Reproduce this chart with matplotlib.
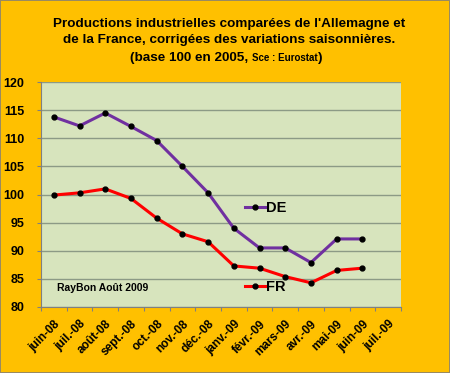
import matplotlib
matplotlib.use("Agg")
import matplotlib.pyplot as plt
from matplotlib.lines import Line2D

plt.rcParams['font.family'] = ['Liberation Sans', 'DejaVu Sans']
plt.rcParams['font.weight'] = 'bold'

months = ['juin-08', 'juil.-08', 'août-08', 'sept.-08', 'oct.-08', 'nov.-08', 'déc.-08',
          'janv.-09', 'févr.-09', 'mars-09', 'avr.-09', 'mai-09', 'juin-09', 'juil.-09']
de = [113.8, 112.2, 114.5, 112.1, 109.6, 105.0, 100.3, 94.0, 90.5, 90.5, 87.9, 92.1, 92.1]
fr = [99.9, 100.3, 101.0, 99.3, 95.8, 93.0, 91.6, 87.3, 86.9, 85.4, 84.3, 86.5, 86.9]

gold = '#FFC000'
fig = plt.figure(figsize=(4.5, 3.73), dpi=100)
fig.patch.set_facecolor(gold)
fig.patch.set_edgecolor('#9A8A60')
fig.patch.set_linewidth(1.2)

ax = fig.add_axes([0.091, 0.177, 0.800, 0.603])
ax.set_facecolor('#D7E4BD')

ax.plot(range(len(de)), de, color='#7030A0', lw=2.2, marker='o', ms=3.5, mfc='black', mec='black',
        solid_joinstyle='round', zorder=3)
ax.plot(range(len(fr)), fr, color='#FF0000', lw=2.2, marker='o', ms=3.5, mfc='black', mec='black',
        solid_joinstyle='round', zorder=3)

ax.set_xlim(-0.5, len(months) - 0.5)
ax.set_ylim(80, 120)
ax.set_yticks(range(80, 121, 5))
ax.set_xticks([i - 0.5 for i in range(len(months) + 1)])
ax.set_xticklabels([])
ax.set_xticks(range(len(months)), minor=True)
ax.set_xticklabels(months, minor=True, rotation=45, ha='right', va='top',
                   rotation_mode='anchor', fontsize=8.5, fontweight='bold')
ax.tick_params(axis='x', which='minor', length=0, pad=8)
ax.tick_params(axis='x', which='major', length=3, color='#808080', direction='out')
ax.tick_params(axis='y', labelsize=9, length=3, color='#808080', pad=9)
for lab in ax.get_yticklabels():
    lab.set_fontweight('bold')

ax.grid(axis='y', color='#8C9A86', lw=1.0)
ax.set_axisbelow(True)
for side in ['top', 'right']:
    ax.spines[side].set_visible(False)
for side in ['left', 'bottom']:
    ax.spines[side].set_color('#808080')

# inline legend
h_de = Line2D([], [], color='#7030A0', lw=2.2, marker='o', ms=3.5, mfc='black', mec='black')
h_fr = Line2D([], [], color='#FF0000', lw=2.2, marker='o', ms=3.5, mfc='black', mec='black')
leg_kw = dict(frameon=False, prop={'weight': 'bold', 'size': 10.5}, handlelength=1.35,
              handletextpad=0.1, borderaxespad=0, borderpad=0, loc='center left')
leg1 = ax.legend([h_de], ['DE'], bbox_to_anchor=(0.567, 0.44), **leg_kw)
ax.add_artist(leg1)
ax.legend([h_fr], ['FR'], bbox_to_anchor=(0.567, 0.089), **leg_kw)

ax.text(0.045, 0.085, 'RayBon Août 2009', transform=ax.transAxes, fontsize=7.5,
        fontweight='bold', va='center', ha='left')

# title
fig.text(0.51, 1 - 23.5 / 373, "Productions industrielles comparées de l'Allemagne et",
         ha='center', va='center', fontsize=9.7, fontweight='bold')
fig.text(0.51, 1 - 40.5 / 373, "de la France, corrigées des variations saisonnières.",
         ha='center', va='center', fontsize=9.7, fontweight='bold')
base_y = 1 - 61 / 373
t1 = fig.text(0.289, base_y, "(base 100 en 2005, ", ha='left', va='baseline',
              fontsize=9.7, fontweight='bold')
t2 = fig.text(0, base_y, "Sce : Eurostat", fontsize=7, fontweight='bold', va='baseline', ha='left')
fig.canvas.draw()
r = fig.canvas.get_renderer()
bb = t1.get_window_extent(r)
t2.set_position((bb.x1 / fig.bbox.width, base_y))
bb2 = t2.get_window_extent(r)
fig.text(bb2.x1 / fig.bbox.width, base_y, ")", fontsize=9.7, fontweight='bold',
         va='baseline', ha='left')

fig.savefig('out.png', dpi=100, facecolor=gold, edgecolor=fig.patch.get_edgecolor())
